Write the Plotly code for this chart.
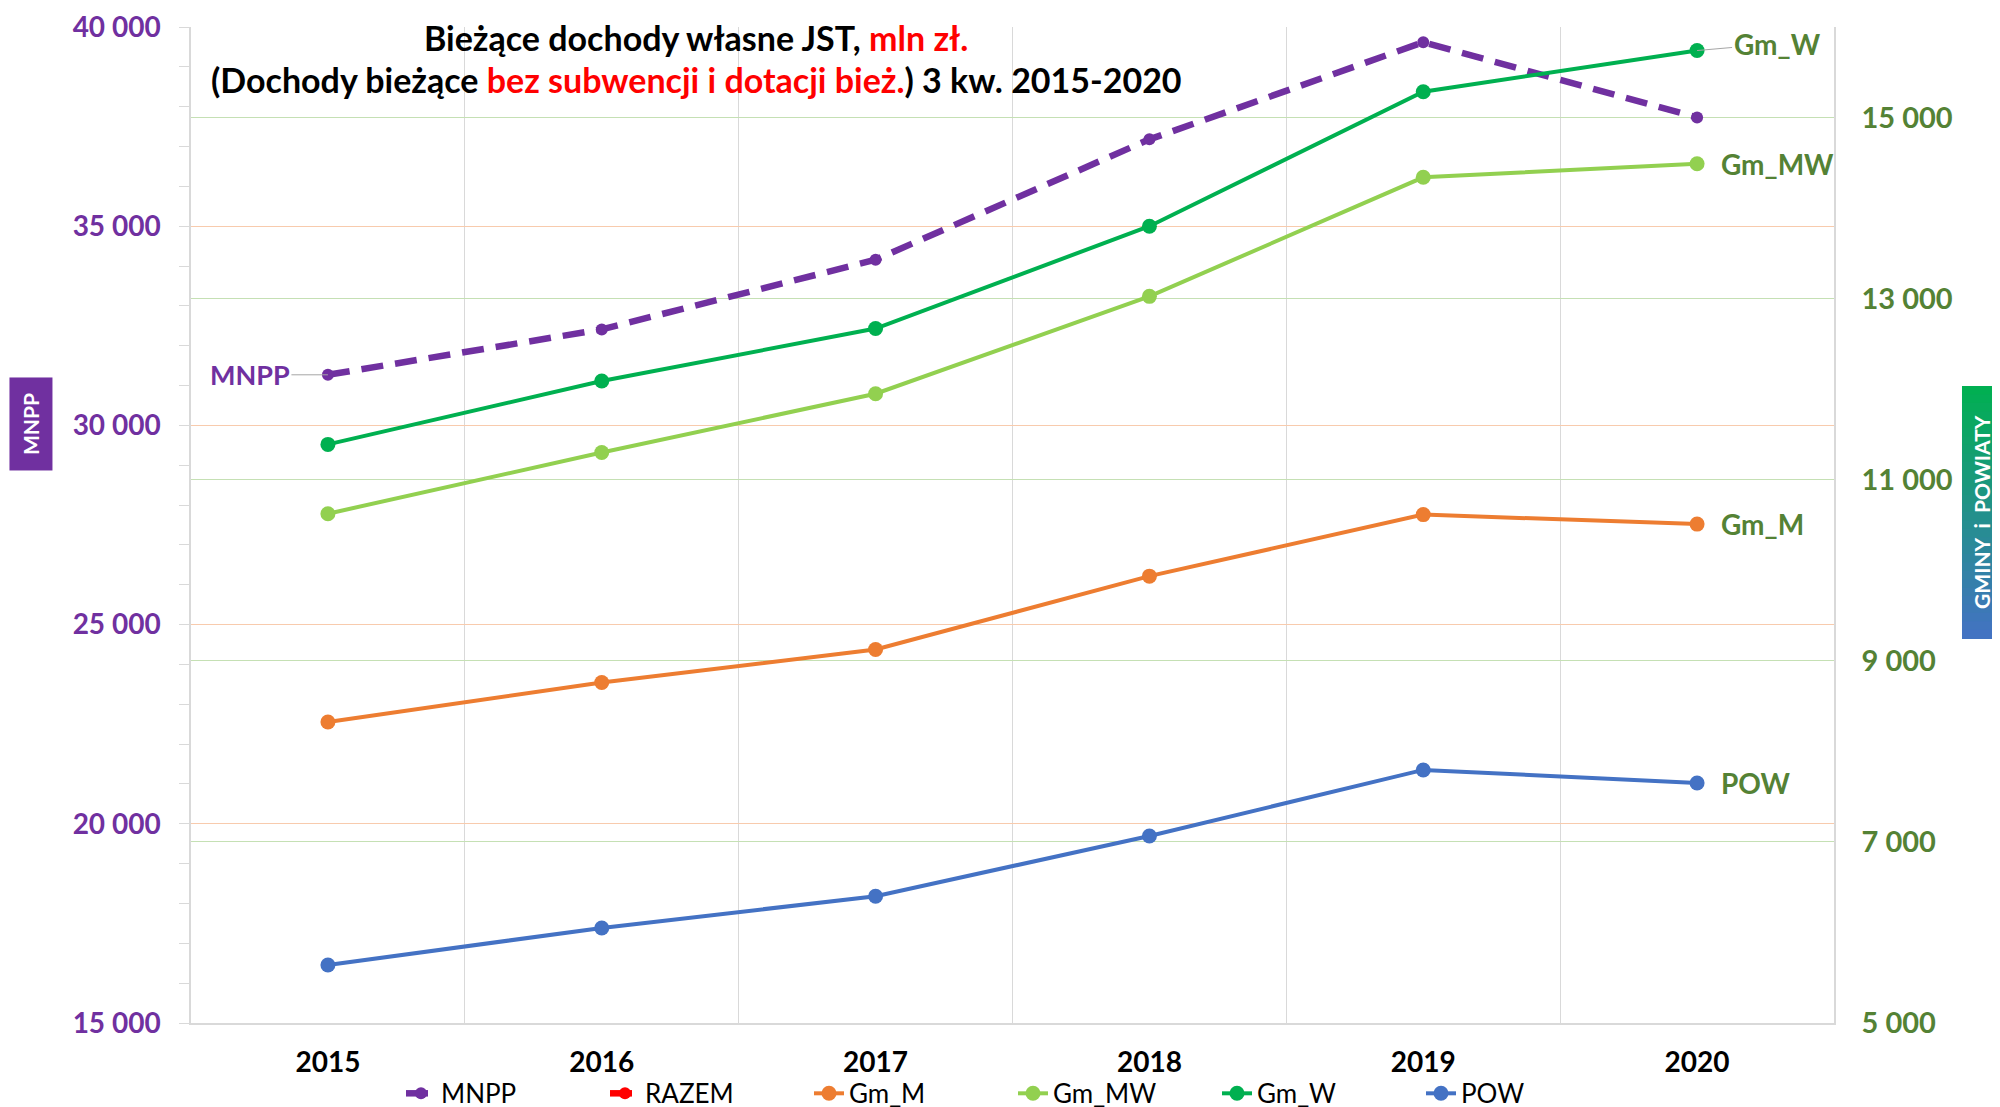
import plotly.graph_objects as go

years = ['2015', '2016', '2017', '2018', '2019', '2020']

mnpp = [31270, 32410, 34160, 37180, 39620, 37730]
razem = [None, None, None, None, None, None]
gm_m = [8325, 8760, 9125, 9935, 10615, 10510]
gm_mw = [10625, 11300, 11950, 13025, 14340, 14490]
gm_w = [11390, 12090, 12670, 13800, 15285, 15740]
pow_ = [5640, 6050, 6400, 7065, 7795, 7650]

FONT = 'Lato'
PURPLE = '#7030A0'
DKGREEN = '#548235'

fig = go.Figure()

fig.add_scatter(x=years, y=mnpp, name='MNPP', yaxis='y',
                mode='lines+markers',
                line=dict(color=PURPLE, width=6.5, dash='22px,12px'),
                marker=dict(size=12, color=PURPLE))
fig.add_scatter(x=years, y=razem, name='RAZEM', yaxis='y',
                mode='lines+markers',
                line=dict(color='#FF0000', width=6.5, dash='22px,12px'),
                marker=dict(size=12, color='#FF0000'))

solid = [('Gm_M', gm_m, '#ED7D31'),
         ('Gm_MW', gm_mw, '#92D050'),
         ('Gm_W', gm_w, '#00B050'),
         ('POW', pow_, '#4472C4')]
for name, vals, col in solid:
    fig.add_scatter(x=years, y=vals, name=name, yaxis='y2',
                    mode='lines+markers',
                    line=dict(color=col, width=4),
                    marker=dict(size=15, color=col))

# series labels at line ends (category axis -> numeric index)
last = len(years) - 1
label_font = dict(family=FONT, size=28, color=DKGREEN, weight='bold')
fig.add_annotation(x=last, y=gm_w[-1], xref='x', yref='y2', text='Gm_W',
                   showarrow=True, arrowhead=0, arrowwidth=1, arrowcolor='#A6A6A6',
                   ax=80, ay=-7, font=label_font)
for name, vals in [('Gm_MW', gm_mw), ('Gm_M', gm_m), ('POW', pow_)]:
    fig.add_annotation(x=last, y=vals[-1], xref='x', yref='y2', text=name,
                       showarrow=False, xanchor='left', yanchor='middle', xshift=22,
                       font=label_font)
fig.add_annotation(x=0, y=mnpp[0], xref='x', yref='y', text='MNPP',
                   showarrow=True, arrowhead=0, arrowwidth=1, arrowcolor='#A6A6A6',
                   ax=-78, ay=0, font=dict(family=FONT, size=27, color=PURPLE, weight='bold'))

# title
fig.add_annotation(xref='paper', yref='paper', x=0.3074, y=0.989,
                   xanchor='center', yanchor='middle',
                   text="<b>Bieżące dochody własne JST, <span style='color:#FF0000'>mln zł.</span></b>",
                   showarrow=False, font=dict(family=FONT, size=34, color='black'))
fig.add_annotation(xref='paper', yref='paper', x=0.3074, y=0.9468,
                   xanchor='center', yanchor='middle',
                   text="<b>(Dochody bieżące <span style='color:#FF0000'>bez subwencji i dotacji bież.</span>) 3 kw. 2015-2020</b>",
                   showarrow=False, font=dict(family=FONT, size=34, color='black'))

# axis name boxes
fig.add_annotation(xref='paper', yref='paper', x=-0.0974, y=0.6014,
                   xanchor='center', yanchor='middle',
                   text='<b>MNPP</b>', textangle=-90, showarrow=False,
                   bgcolor=PURPLE, width=88, height=38, borderpad=2,
                   font=dict(family=FONT, size=21, color='white'))

# gradient box on right (green -> blue)
n = 30
top_c = (0x00, 0xB0, 0x50)
bot_c = (0x44, 0x72, 0xC4)
x0, x1 = 1.0779, 1.1029
y_top, y_bot = 0.6396, 0.3865
for i in range(n):
    t = (i + 0.5) / n
    c = tuple(round(top_c[k] + (bot_c[k] - top_c[k]) * t) for k in range(3))
    fig.add_shape(type='rect', xref='paper', yref='paper',
                  x0=x0, x1=x1,
                  y0=y_top - (y_top - y_bot) * (i + 1) / n - 0.001,
                  y1=y_top - (y_top - y_bot) * i / n,
                  line=dict(width=0), fillcolor='rgb(%d,%d,%d)' % c, layer='above')
fig.add_annotation(xref='paper', yref='paper', x=(x0 + x1) / 2 - 0.001, y=(y_top + y_bot) / 2,
                   xanchor='center', yanchor='middle',
                   text='<b>GMINY  i  POWIATY</b>', textangle=-90, showarrow=False,
                   font=dict(family=FONT, size=21, color='white'))

fig.update_layout(
    width=2000, height=1107,
    margin=dict(l=183, r=174, t=19, b=92, autoexpand=False),
    paper_bgcolor='white', plot_bgcolor='white',
    separators=', ',
    font=dict(family=FONT),
    xaxis=dict(type='category', range=[-0.5, 5.5], automargin=False,
               showgrid=True, gridcolor='#D9D9D9', gridwidth=1,
               tickson='boundaries', ticks='',
               showline=True, linecolor='#D9D9D9', linewidth=1.5,
               ticklabelstandoff=14,
               tickfont=dict(family=FONT, size=28, color='black', weight='bold')),
    yaxis=dict(range=[15000, 40000], dtick=5000, tickformat=',', automargin=False,
               showgrid=True, gridcolor='#F8CBAD', gridwidth=1.3,
               showline=True, linecolor='#D9D9D9', linewidth=1.5,
               ticks='outside', ticklen=10, tickcolor='#D9D9D9',
               minor=dict(dtick=1000, ticks='outside', ticklen=10,
                          tickcolor='#D9D9D9', showgrid=False),
               ticklabelstandoff=13, zeroline=False,
               tickfont=dict(family=FONT, size=28, color=PURPLE, weight='bold')),
    yaxis2=dict(range=[5000, 16000], tick0=5000, dtick=2000, tickformat=',',
                overlaying='y', side='right', automargin=False,
                showgrid=True, gridcolor='#C5E0B4', gridwidth=1.3,
                showline=True, linecolor='#D9D9D9', linewidth=1.5,
                ticks='', ticklabelstandoff=20, zeroline=False,
                tickfont=dict(family=FONT, size=29, color=DKGREEN, weight='bold')),
    legend=dict(orientation='h', xref='container', x=0.5025, xanchor='center',
                yref='container', y=0.0195, yanchor='middle',
                entrywidth=159, entrywidthmode='pixels',
                font=dict(family=FONT, size=26, color='black'),
                bgcolor='rgba(0,0,0,0)'),
    showlegend=True,
)

fig.write_html("out.html")
